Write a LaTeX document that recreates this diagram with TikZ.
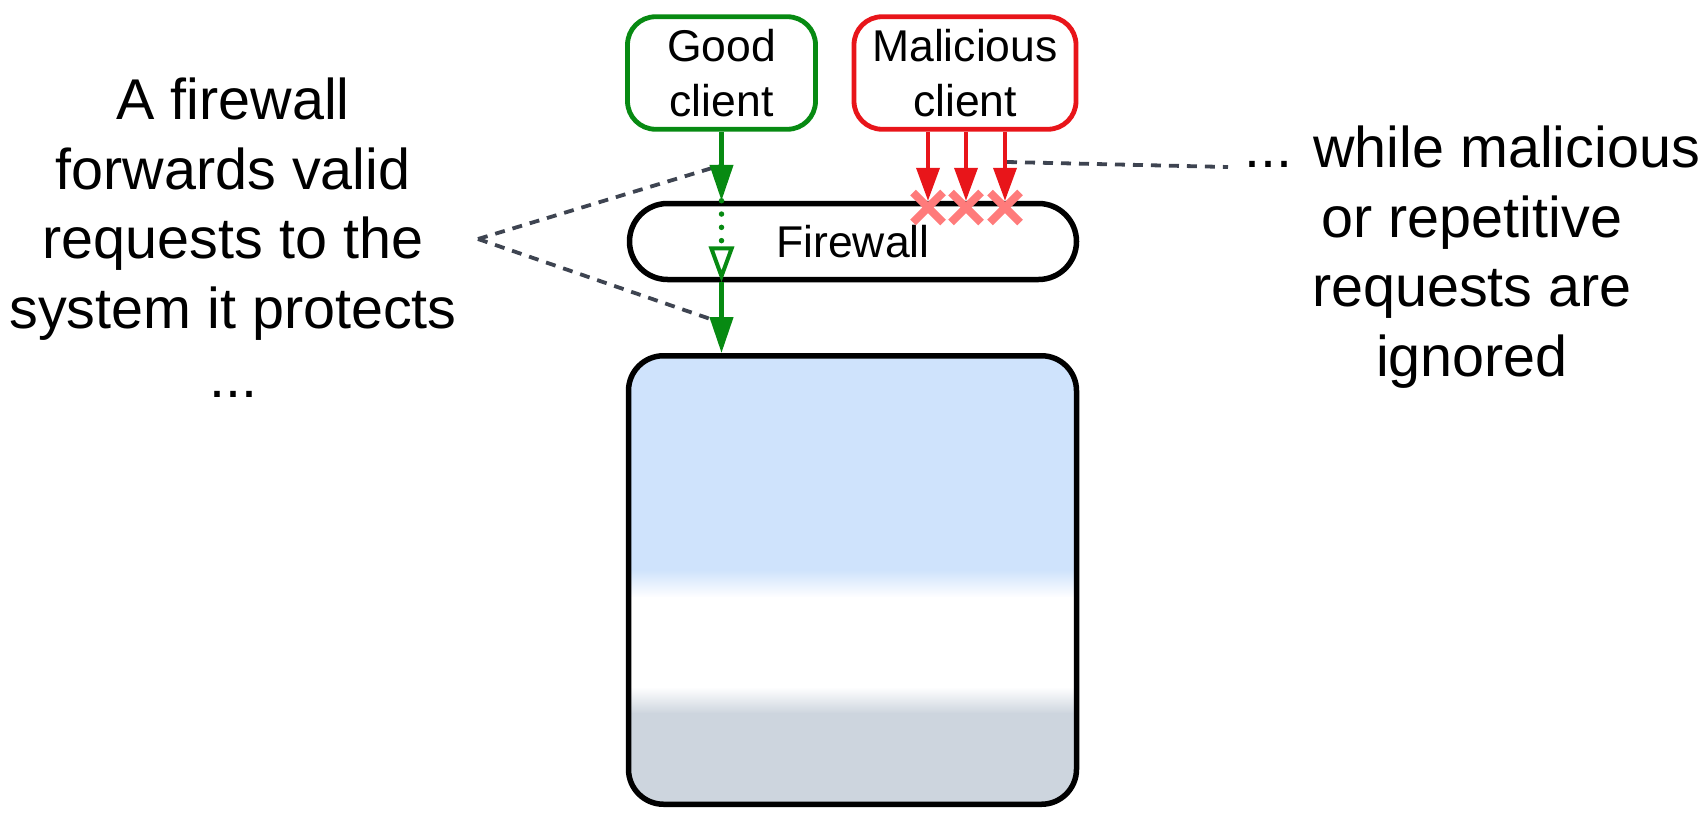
\documentclass[tikz,border=0pt]{standalone}
\usepackage{fontspec}
\setmainfont{Liberation Sans}
\usetikzlibrary{arrows.meta}
\definecolor{okgreen}{HTML}{078A12}
\definecolor{badred}{HTML}{E8151A}
\definecolor{xpink}{HTML}{FF7B7B}
\definecolor{dashgray}{HTML}{3E4451}
\definecolor{sysblue}{HTML}{CFE3FC}
\definecolor{sysgray}{HTML}{CDD5DE}
\begin{document}
\begin{tikzpicture}[x=1pt,y=-1pt,
  clientbox/.style={draw, line width=4.8pt, rounded corners=28pt, inner sep=0pt,
    align=center, font=\fontsize{44.5}{55}\selectfont, minimum height=112.5pt},
  fwbox/.style={draw, line width=5.5pt, rounded corners=38pt, inner sep=0pt,
    font=\fontsize{44.5}{55}\selectfont, minimum width=447pt, minimum height=76pt},
  sysbox/.style={draw, line width=5.5pt, rounded corners=35pt, inner sep=0pt,
    minimum width=448pt, minimum height=448.5pt},
  bigtext/.style={inner sep=0pt, align=center, font=\fontsize{57.5}{69.5}\selectfont},
  garrow/.style={okgreen, line width=4.3pt, -{Triangle[length=36pt,width=23pt]}},
  rarrow/.style={badred, line width=3.8pt, -{Triangle[length=33pt,width=23pt]}},
  xline/.style={xpink, line width=8pt},
  callout/.style={dashgray, line width=3.8pt, dash pattern=on 10pt off 8pt}
]
\useasboundingbox (0,0) rectangle (1706,819);

% system gradient
\begin{scope}
  \clip[rounded corners=35pt] (628.5,355.5) rectangle (1076.5,804);
  \fill[sysblue] (600,340) rectangle (1100,570.5);
  \shade[top color=sysblue,bottom color=white] (600,570) rectangle (1100,597.5);
  \fill[white] (600,597) rectangle (1100,687.5);
  \shade[top color=white,bottom color=sysgray] (600,687) rectangle (1100,713.5);
  \fill[sysgray] (600,713) rectangle (1100,820);
\end{scope}

\node[clientbox, draw=okgreen, minimum width=188pt] (good) at (721.5,73) {Good\\client};
\node[clientbox, draw=badred, minimum width=222pt] (mal) at (965,73) {Malicious\\client};
\node[fwbox] (fw) at (853,241.5) {Firewall};
\node[sysbox] (sys) at (852.5,580) {};

\node[bigtext, anchor=north] (ltext) at (233,78) {A firewall\\forwards valid\\requests to the\\system it protects\\...};
\node[bigtext, anchor=north] (rtext) at (1472,126) {... while malicious\\or repetitive\\requests are\\ignored};

% callout lines
\coordinate (lapex) at (478,239);
\coordinate (lup) at (722,165);
\coordinate (ldown) at (722,323);
\coordinate (rstart) at (1007,162);
\coordinate (rend) at (1228,167);
\draw[callout] (lapex) -- (lup);
\draw[callout] (lapex) -- (ldown);
\draw[callout] (rstart) -- (rend);

% good client path
\draw[garrow] (good.south) -- (good.south |- fw.north);
\draw[okgreen, line width=5.5pt, line cap=round, dash pattern=on 0pt off 13.3pt,
  -{Triangle[open,length=36pt,width=25pt,line width=4pt]}]
  (good.south |- fw.north) -- (good.south |- fw.south);
\draw[garrow] (good.south |- fw.south) -- (good.south |- sys.north);

% malicious requests
\coordinate (r1) at (928,0);
\coordinate (r2) at (966,0);
\coordinate (r3) at (1005,0);
\draw[rarrow] (mal.south -| r1) -- (fw.north -| r1);
\draw[rarrow] (mal.south -| r2) -- (fw.north -| r2);
\draw[rarrow] (mal.south -| r3) -- (fw.north -| r3);
\coordinate (x1) at (928,207.5);
\coordinate (x2) at (966,207.5);
\coordinate (x3) at (1005,207.5);
\foreach \c in {x1,x2,x3}{
  \draw[xline] (\c) +(-15,-15) -- +(15,15);
  \draw[xline] (\c) +(-15,15) -- +(15,-15);
}
\end{tikzpicture}
\end{document}
